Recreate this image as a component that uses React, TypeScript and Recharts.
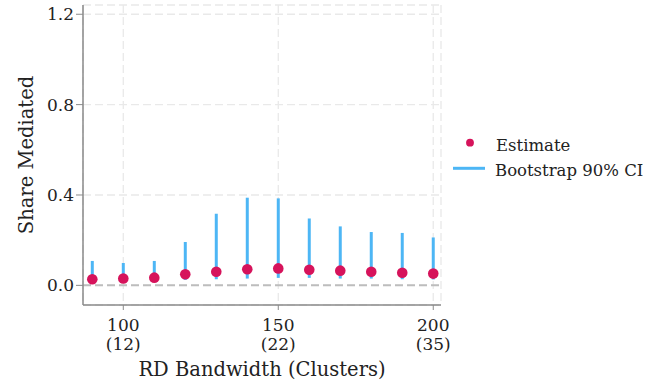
import React from 'react';
import {
  ComposedChart,
  Scatter,
  XAxis,
  YAxis,
  CartesianGrid,
  ReferenceLine,
  ErrorBar,
} from 'recharts';

// ---- data ----
const bandwidths = [90, 100, 110, 120, 130, 140, 150, 160, 170, 180, 190, 200];
const estimate = [0.027, 0.03, 0.034, 0.049, 0.06, 0.071, 0.075, 0.069, 0.065, 0.06, 0.056, 0.052];
const ciLow = [0.012, 0.015, 0.018, 0.024, 0.027, 0.03, 0.033, 0.033, 0.03, 0.03, 0.027, 0.026];
const ciHigh = [0.108, 0.099, 0.108, 0.192, 0.317, 0.388, 0.385, 0.296, 0.261, 0.236, 0.232, 0.212];

const xTicks = [100, 150, 200];
const xTickClusters = ['(12)', '(22)', '(35)'];
const yTicks = [0, 0.4, 0.8, 1.2];

const seriesNames = ['Estimate', 'Bootstrap 90% CI'];
const xTitle = 'RD Bandwidth (Clusters)';
const yTitle = 'Share Mediated';

const data = bandwidths.map((b, i) => ({
  bw: b,
  est: estimate[i],
  err: [estimate[i] - ciLow[i], ciHigh[i] - estimate[i]],
}));

// ---- styles ----
const FONT = "'DejaVu Serif', serif";
const DOT = '#d6135b';
const CI = '#4db6f5';
const AXIS = '#8a8a8a';
const TEXT = '#222';

const XTick = (props: any) => {
  const { x, y, payload } = props;
  const idx = xTicks.indexOf(payload.value);
  return (
    <g>
      <text x={x} y={y + 19} textAnchor="middle" fontFamily={FONT} fontSize={17} fill={TEXT}>
        {String(payload.value)}
      </text>
      <text x={x} y={y + 38} textAnchor="middle" fontFamily={FONT} fontSize={17} fill={TEXT}>
        {idx >= 0 ? xTickClusters[idx] : ''}
      </text>
    </g>
  );
};

const YTitle = (props: any) => {
  const vb = props.viewBox || { x: 0, y: 0, width: 0, height: 0 };
  const cx = vb.x + 33;
  const cy = vb.y + vb.height / 2;
  return (
    <text
      x={cx}
      y={cy}
      transform={`rotate(-90 ${cx} ${cy})`}
      textAnchor="middle"
      fontFamily={FONT}
      fontSize={19.5}
      fill={TEXT}
    >
      {yTitle}
    </text>
  );
};

const XTitle = (props: any) => {
  const vb = props.viewBox || { x: 0, y: 0, width: 0, height: 0 };
  return (
    <text
      x={vb.x + vb.width / 2}
      y={vb.y + vb.height - 11}
      textAnchor="middle"
      fontFamily={FONT}
      fontSize={19.5}
      fill={TEXT}
    >
      {xTitle}
    </text>
  );
};

const LegendBox = () => (
  <svg
    width={199}
    height={64}
    style={{ position: 'absolute', left: 450, top: 125, display: 'block' }}
  >
    <circle cx={20} cy={17.7} r={3.9} fill={DOT} />
    <text x={46} y={25.5} fontFamily={FONT} fontSize={16.5} fill={TEXT}>
      {seriesNames[0]}
    </text>
    <line x1={3} x2={35} y1={43.3} y2={43.3} stroke={CI} strokeWidth={3} />
    <text x={45} y={51} fontFamily={FONT} fontSize={16.5} fill={TEXT}>
      {seriesNames[1]}
    </text>
  </svg>
);

const DotShape = (props: any) => {
  const { cx, cy } = props;
  if (cx == null || cy == null) return <g />;
  return <circle cx={cx} cy={cy} r={5.3} fill={DOT} />;
};

const NoShape = () => <g />;

export default function App() {
  return (
    <div style={{ position: 'absolute', left: 0, top: 0, width: 649, height: 387, background: '#fff' }}>
      <ComposedChart
        width={649}
        height={387}
        data={data}
        margin={{ top: 5, right: 208, bottom: 0, left: 0 }}
      >
        <CartesianGrid stroke="#e9e9e9" strokeWidth={1.3} strokeDasharray="8 4" />
        <XAxis
          type="number"
          dataKey="bw"
          domain={[87, 202.5]}
          ticks={xTicks}
          allowDataOverflow
          height={82}
          axisLine={{ stroke: AXIS, strokeWidth: 1.5 }}
          tickLine={{ stroke: AXIS, strokeWidth: 1 }}
          tickSize={5}
          tick={<XTick />}
          label={<XTitle />}
        />
        <YAxis
          type="number"
          domain={[-0.087, 1.241]}
          ticks={yTicks}
          allowDataOverflow
          width={83}
          tickFormatter={(v: number) => v.toFixed(1)}
          axisLine={{ stroke: AXIS, strokeWidth: 1.5 }}
          tickLine={{ stroke: AXIS, strokeWidth: 1 }}
          tickSize={7}
          tick={{ fill: TEXT, fontSize: 17, fontFamily: FONT }}
          label={<YTitle />}
        />
        <ReferenceLine y={0} stroke="#bdbdbd" strokeWidth={2} strokeDasharray="8 4" />
        <Scatter dataKey="est" shape={<NoShape />} isAnimationActive={false} legendType="none">
          <ErrorBar dataKey="err" direction="y" width={0} stroke={CI} strokeWidth={3} isAnimationActive={false} />
        </Scatter>
        <Scatter dataKey="est" shape={<DotShape />} isAnimationActive={false} legendType="none" />
      </ComposedChart>
      <LegendBox />
    </div>
  );
}
